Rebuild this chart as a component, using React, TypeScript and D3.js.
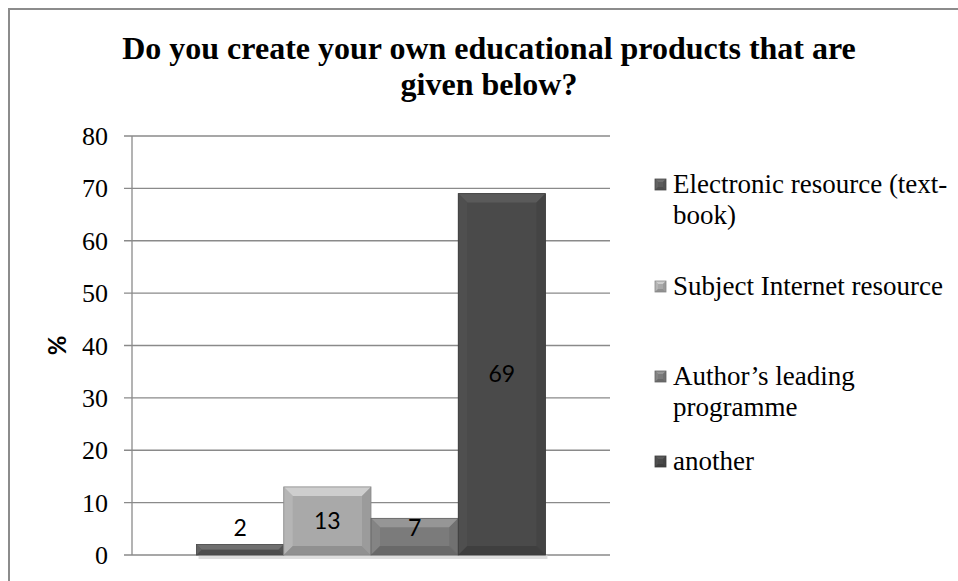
import React, { useRef, useEffect } from 'react';
import * as d3 from 'd3';

const title = ['Do you create your own educational products that are', 'given below?'];
const categories = [''];
const seriesNames = ['Electronic resource (text-book)', 'Subject Internet resource', 'Author\u2019s leading programme', 'another'];
const legendLines = [['Electronic resource (text-', 'book)'], ['Subject Internet resource'], ['Author\u2019s leading', 'programme'], ['another']];
const values = [2, 13, 7, 69];
const colors = ['#5b5b5b', '#a9a9a9', '#7b7b7b', '#4a4a4a'];
const yTicks = [0, 10, 20, 30, 40, 50, 60, 70, 80];
const yLabel = '%';

const App = () => {
  const svgRef = useRef<SVGSVGElement>(null);

  useEffect(() => {
    const svg = d3.select(svgRef.current);
    svg.selectAll('*').remove();

    const W = 958, H = 581;
    const plot = { left: 132, right: 610, top: 136, bottom: 555 };

    // frame (runs past the right & bottom edge like the original crop)
    svg.append('rect').attr('width', W).attr('height', H).attr('fill', '#fff');
    svg.append('path')
      .attr('d', `M9,${H + 5} L9,9 L${W + 5},9`)
      .attr('fill', 'none').attr('stroke', '#8c8c8c').attr('stroke-width', 2);

    // title
    const t = svg.append('text')
      .attr('x', 489).attr('text-anchor', 'middle')
      .attr('font-family', '"Liberation Serif", "Times New Roman", serif')
      .attr('font-weight', 'bold').attr('font-size', 32);
    title.forEach((line, i) => {
      t.append('tspan').attr('x', 489).attr('y', 59 + i * 36).text(line);
    });

    const y = d3.scaleLinear().domain([0, 80]).range([plot.bottom, plot.top]);
    const x0 = d3.scaleBand().domain(categories).range([plot.left, plot.right]).paddingInner(0.27).paddingOuter(0.135);
    const x1 = d3.scaleBand().domain(seriesNames).range([0, x0.bandwidth()]);

    // gridlines + ticks
    const g = svg.append('g');
    yTicks.forEach(v => {
      g.append('line')
        .attr('x1', plot.left - 8).attr('x2', plot.right)
        .attr('y1', y(v)).attr('y2', y(v))
        .attr('stroke', '#8a8a8a').attr('stroke-width', 1.3);
      g.append('text')
        .attr('x', 108).attr('y', y(v)).attr('dy', '0.35em')
        .attr('text-anchor', 'end')
        .attr('font-family', '"Liberation Serif", "Times New Roman", serif')
        .attr('font-size', 26).attr('fill', '#000')
        .text(v);
    });
    g.append('line')
      .attr('x1', plot.left).attr('x2', plot.left)
      .attr('y1', plot.top).attr('y2', plot.bottom)
      .attr('stroke', '#8a8a8a').attr('stroke-width', 1.3);

    svg.append('text')
      .attr('transform', `translate(${58},${y(40)}) rotate(-90)`)
      .attr('text-anchor', 'middle').attr('dy', '0.35em')
      .attr('font-family', 'Lato, "Open Sans", sans-serif')
      .attr('font-weight', 'bold').attr('font-size', 24)
      .text(yLabel);

    // bevelled box helper
    const bevel = (sel, bx, by, bw, bh, col, b) => {
      const c = d3.color(col);
      const bb = Math.min(b, bh / 2, bw / 2);
      sel.append('rect').attr('x', bx).attr('y', by).attr('width', bw).attr('height', bh).attr('fill', col);
      const poly = (pts, fill) => sel.append('polygon').attr('points', pts.map(p => p.join(',')).join(' ')).attr('fill', fill);
      poly([[bx, by], [bx + bw, by], [bx + bw - bb, by + bb], [bx + bb, by + bb]], c.brighter(0.55).formatHex());
      poly([[bx, by], [bx + bb, by + bb], [bx + bb, by + bh - bb], [bx, by + bh]], c.brighter(0.2).formatHex());
      poly([[bx + bw, by], [bx + bw, by + bh], [bx + bw - bb, by + bh - bb], [bx + bw - bb, by + bb]], c.darker(0.25).formatHex());
      poly([[bx, by + bh], [bx + bb, by + bh - bb], [bx + bw - bb, by + bh - bb], [bx + bw, by + bh]], c.darker(0.45).formatHex());
      sel.append('rect').attr('x', bx).attr('y', by).attr('width', bw).attr('height', bh)
        .attr('fill', 'none').attr('stroke', c.darker(0.6).formatHex()).attr('stroke-width', 0.8);
    };

    // bars
    const bars = svg.append('g');
    const cx = x0(categories[0]);
    bars.append('rect')
      .attr('x', cx + 2).attr('y', plot.bottom).attr('width', x0.bandwidth())
      .attr('height', 4).attr('fill', '#d0d0d0').attr('opacity', 0.7);
    seriesNames.forEach((s, i) => {
      const bx = cx + x1(s);
      const by = y(values[i]);
      bevel(bars.append('g'), bx, by, x1.bandwidth(), plot.bottom - by, colors[i], 9);
    });
    seriesNames.forEach((s, i) => {
      const bx = cx + x1(s) + x1.bandwidth() / 2;
      const mid = (y(values[i]) + plot.bottom) / 2;
      bars.append('text')
        .attr('x', bx).attr('y', Math.min(mid, plot.bottom - 27)).attr('dy', '0.35em')
        .attr('text-anchor', 'middle')
        .attr('font-family', 'Lato, "Open Sans", sans-serif')
        .attr('font-size', 23).attr('fill', '#000')
        .text(values[i]);
    });

    // legend
    const legendBase = [193, 295, 385, 470];
    const lg = svg.append('g');
    legendLines.forEach((lines, i) => {
      const by = legendBase[i];
      bevel(lg.append('g'), 655, by - 14, 11, 11, colors[i], 3);
      lines.forEach((l, j) => {
        lg.append('text')
          .attr('font-family', '"Liberation Serif", "Times New Roman", serif')
          .attr('font-size', 27).attr('fill', '#000')
          .attr('x', 673).attr('y', by + j * 31).text(l);
      });
    });
  }, []);

  return <svg ref={svgRef} width={958} height={581} style={{ display: 'block', position: 'absolute', left: 0, top: 0 }} />;
};

export default App;
